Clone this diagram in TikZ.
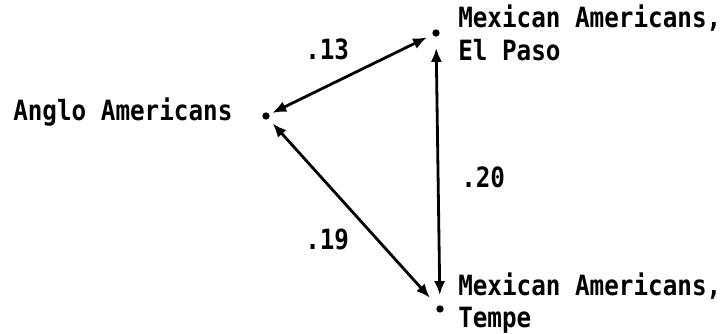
\documentclass[tikz,border=0pt]{standalone}
\usepackage{fontspec}
\setmonofont{DejaVu Sans Mono}
\usetikzlibrary{arrows.meta}
\newcommand{\tallt}[1]{\scalebox{1}[1.15]{#1}}
\tikzset{
  pt/.style={circle,fill=black,inner sep=0pt,minimum size=5.5pt},
  lbl/.style={anchor=base west,inner sep=0pt,font=\ttfamily\bfseries\fontsize{18.2pt}{22pt}\selectfont},
  link/.style={line width=2.1pt,{Latex[length=10.5pt,width=8.5pt]}-{Latex[length=10.5pt,width=8.5pt]}}
}
\begin{document}
\begin{tikzpicture}[x=0.75pt,y=-0.75pt]
\useasboundingbox (0,0) rectangle (726,334);
\node[pt] (A) at (266,116) {};
\node[pt] (E) at (436,33) {};
\node[pt] (T) at (440,309) {};
\node[lbl] (la) at (13,121) {\tallt{Anglo Americans}};
\node[lbl] (le1) at (458,28) {\tallt{Mexican Americans,}};
\node[lbl] (le2) at (458,61) {\tallt{El Paso}};
\node[lbl] (lt1) at (458,296) {\tallt{Mexican Americans,}};
\node[lbl] (lt2) at (458,328) {\tallt{Tempe}};
\node[lbl] (w13) at (305,60) {\tallt{.13}};
\node[lbl] (w20) at (461,188) {\tallt{.20}};
\node[lbl] (w19) at (305,250) {\tallt{.19}};
\draw[link,shorten <=2.25pt,shorten >=4.5pt] (A) -- (E);
\draw[link,shorten <=8.25pt,shorten >=7.5pt] (E) -- (T);
\draw[link,shorten <=4.5pt,shorten >=8.25pt] (A) -- (T);
\end{tikzpicture}
\end{document}
